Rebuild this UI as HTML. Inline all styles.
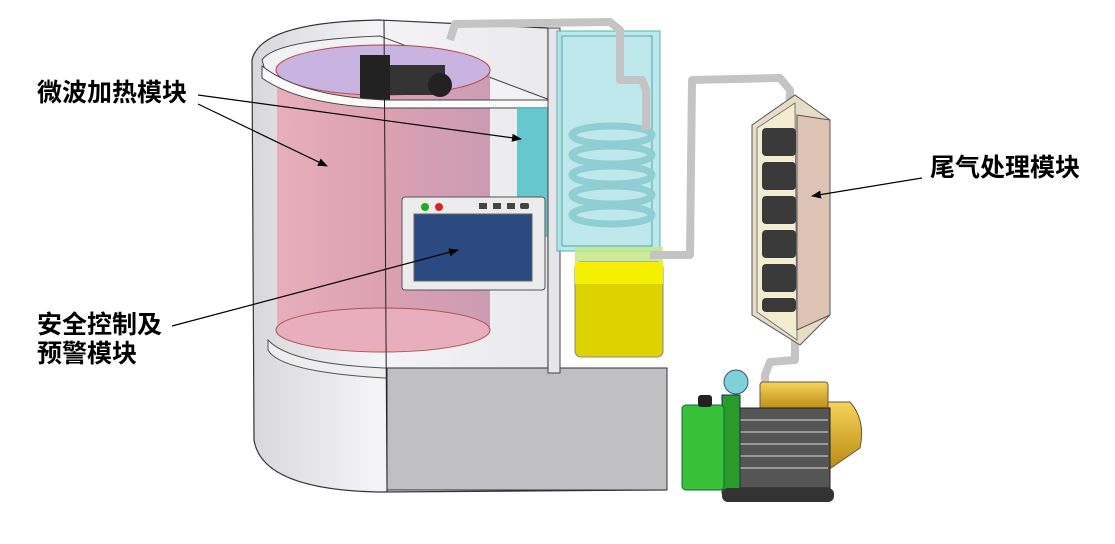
<!DOCTYPE html>
<html><head><meta charset="utf-8"><style>
html,body{margin:0;padding:0;background:#fff;}
svg{display:block}
text{font-family:"Liberation Sans","Noto Sans CJK SC",sans-serif;font-weight:bold;font-size:25px;fill:#000}
</style></head><body>
<svg width="1115" height="544" viewBox="0 0 1115 544" xmlns="http://www.w3.org/2000/svg">
<defs>
<marker id="ah" markerWidth="10" markerHeight="8" refX="9" refY="4" orient="auto" markerUnits="userSpaceOnUse"><path d="M0,0 L10,4 L0,8 z" fill="#000"/></marker>
<linearGradient id="pink" x1="0" x2="1"><stop offset="0" stop-color="#e8a6b4"/><stop offset="0.5" stop-color="#d891a6"/><stop offset="1" stop-color="#c48ea8"/></linearGradient>
<linearGradient id="shell" x1="0" x2="1"><stop offset="0" stop-color="#d8d8dc"/><stop offset="0.3" stop-color="#f4f4f6"/><stop offset="1" stop-color="#e2e2e4"/></linearGradient>
<linearGradient id="gold" x1="0" y1="0" x2="0" y2="1"><stop offset="0" stop-color="#f6d35a"/><stop offset="1" stop-color="#b98a10"/></linearGradient>
</defs>
<path d="M252,60 Q260,22 380,20 L548,28 L548,372 L665,372 L665,490 L380,492 Q262,490 254,440 Z" fill="url(#shell)" stroke="#333" stroke-width="1.2"/>
<path d="M262,60 Q275,40 380,36 L550,100 L550,108 L380,108 Q300,100 268,80 Z" fill="#f2f2f4" stroke="#444"/>
<rect x="277" y="70" width="213" height="262" fill="url(#pink)" opacity="0.85"/>
<ellipse cx="383" cy="70" rx="107" ry="25" fill="#c9b3e0" stroke="#b44" stroke-width="1"/>
<ellipse cx="383" cy="330" rx="107" ry="22" fill="#e8aebd" stroke="#a55"/>
<rect x="360" y="55" width="30" height="45" fill="#222"/>
<rect x="390" y="65" width="55" height="30" fill="#333"/>
<circle cx="440" cy="85" r="12" fill="#222"/>
<path d="M262,78 Q300,105 385,108 L552,108 L552,100 L385,100 Q300,96 262,66 Z" fill="#fafafa" stroke="#444"/>
<path d="M268,350 Q280,372 385,378 L548,378 L548,372 L385,368 Q290,364 268,340 Z" fill="#eee" stroke="#555"/>
<rect x="387" y="368" width="280" height="122" fill="#c0c0c2" stroke="#333"/>
<line x1="384" y1="20" x2="387" y2="492" stroke="#222"/>
<rect x="517" y="107" width="32" height="130" fill="#4fc2c8" opacity="0.85"/>
<rect x="402" y="197" width="143" height="93" rx="3" fill="#ececec" stroke="#555"/>
<circle cx="425" cy="207" r="4" fill="#2a2"/><circle cx="439" cy="207" r="4" fill="#d22"/>
<rect x="479" y="203" width="8" height="6" fill="#444"/><rect x="493" y="203" width="8" height="6" fill="#444"/><rect x="507" y="203" width="8" height="6" fill="#444"/><rect x="520" y="203" width="9" height="6" rx="2" fill="#444"/>
<rect x="414" y="214" width="118" height="67" fill="#2b4a82" stroke="#666"/>
<rect x="548" y="28" width="12" height="345" fill="#e6e6ea" stroke="#444"/>
<rect x="557" y="31" width="103" height="220" fill="#b7e6ea" opacity="0.9" stroke="#4aa"/>
<rect x="562" y="36" width="90" height="210" fill="none" stroke="#4aa"/>
<g fill="none" stroke="#8fcfd4" stroke-width="7">
<ellipse cx="612" cy="135" rx="40" ry="9"/><ellipse cx="612" cy="155" rx="40" ry="9"/><ellipse cx="612" cy="175" rx="40" ry="9"/><ellipse cx="612" cy="195" rx="40" ry="9"/><ellipse cx="612" cy="215" rx="40" ry="9"/>
</g>
<rect x="575" y="247" width="88" height="17" fill="#c8e88c" opacity="0.9"/>
<rect x="575" y="262" width="88" height="95" rx="6" fill="#dcd300" stroke="#888"/>
<rect x="575" y="262" width="88" height="22" fill="#f5f000"/>
<g fill="none" stroke="#c4c4c4" stroke-width="8" stroke-linejoin="round">
<path d="M450,40 L455,24 L610,22 L620,30 L620,80 L642,80 L646,90 L646,130"/>
<path d="M650,255 L690,255 L692,80 L780,78 L790,90 L790,110"/>
<path d="M795,340 L795,360 L770,362 L765,375 L765,395"/>
</g>
<polygon points="795,95 830,120 830,315 800,345 752,315 752,125" fill="#e9dcc6" stroke="#555"/>
<polygon points="757,128 795,103 797,340 757,312" fill="#f2ecd0" stroke="#777"/>
<g fill="#3a3a3a">
<rect x="762" y="128" width="34" height="28" rx="4"/><rect x="762" y="162" width="34" height="28" rx="4"/><rect x="762" y="196" width="34" height="28" rx="4"/><rect x="762" y="230" width="34" height="28" rx="4"/><rect x="762" y="264" width="34" height="28" rx="4"/><rect x="762" y="298" width="34" height="14" rx="4"/>
</g>
<path d="M797,115 L830,120 L830,315 L797,330 Z" fill="#dcc3b4" stroke="#555"/>
<rect x="760" y="382" width="68" height="28" rx="3" fill="url(#gold)" stroke="#654"/>
<path d="M828,402 L850,402 Q866,420 860,448 L828,470 Z" fill="url(#gold)" stroke="#654"/>
<rect x="738" y="408" width="92" height="80" fill="#555" stroke="#222"/>
<g stroke="#999" stroke-width="2"><line x1="740" y1="420" x2="828" y2="420"/><line x1="740" y1="432" x2="828" y2="432"/><line x1="740" y1="444" x2="828" y2="444"/><line x1="740" y1="456" x2="828" y2="456"/><line x1="740" y1="468" x2="828" y2="468"/></g>
<rect x="722" y="395" width="18" height="98" fill="#2a9a2a" stroke="#135"/>
<rect x="682" y="405" width="42" height="85" rx="4" fill="#38c038" stroke="#164"/>
<rect x="698" y="395" width="14" height="12" rx="3" fill="#222"/>
<circle cx="736" cy="382" r="12" fill="#7fd0d8" stroke="#357"/>
<rect x="722" y="488" width="112" height="14" rx="6" fill="#333"/>
<g stroke="#000" stroke-width="1.2" fill="none" marker-end="url(#ah)">
<line x1="198" y1="95" x2="521" y2="139"/>
<line x1="198" y1="104" x2="327" y2="166"/>
<line x1="172" y1="326" x2="458" y2="250"/>
<line x1="922" y1="178" x2="812" y2="196"/>
</g>
<text x="37" y="101">微波加热模块</text>
<text x="930" y="176">尾气处理模块</text>
<text x="37" y="333">安全控制及</text>
<text x="37" y="362">预警模块</text>
</svg>
</body></html>
